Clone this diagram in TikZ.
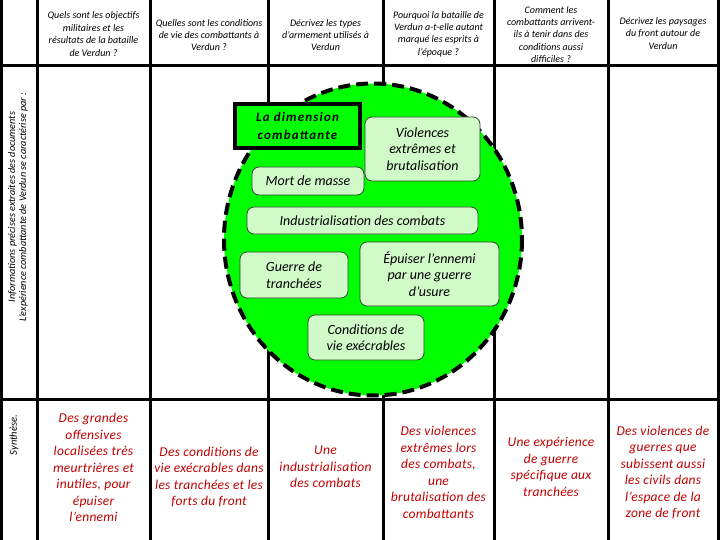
\documentclass[tikz,border=0pt]{standalone}
\usepackage{fontspec}
\setmainfont{Carlito}
\definecolor{lime}{RGB}{0,255,0}
\definecolor{paleg}{RGB}{208,250,200}
\definecolor{boxline}{RGB}{50,70,50}
\definecolor{synred}{RGB}{192,0,0}
\begin{document}
\begin{tikzpicture}[x=1pt,y=-1pt,
  gridline/.style={line width=3pt},
  head/.style={font=\fontsize{10}{12.4}\selectfont\itshape, align=center, inner sep=0pt},
  side/.style={font=\fontsize{10.2}{11}\selectfont\itshape, align=center, inner sep=0pt, rotate=90},
  synth/.style={font=\fontsize{13.5}{16.5}\selectfont\itshape\addfontfeature{LetterSpace=2}, text=synred, align=center, inner sep=0pt},
  idea/.style={draw=boxline, fill=paleg, rounded corners=7pt, line width=0.8pt,
    font=\fontsize{14}{16.4}\selectfont\itshape, align=center, inner sep=0pt},
  dimbox/.style={draw=black, fill=lime, line width=4pt,
    font=\fontsize{13}{18}\selectfont\bfseries\itshape\addfontfeature{LetterSpace=9}, align=center, inner sep=0pt}
]
\useasboundingbox (0,0) rectangle (720,540);
% table grid
\foreach \x in {1.5,37,150,268,383,494,608,718}{\draw[gridline] (\x,0) -- (\x,540);}
\draw[gridline] (0,66) -- (720,66);
\draw[gridline] (0,399) -- (720,399);
% header questions
\node[head] (q1) at (93.5,34) {Quels sont les objectifs\\militaires et les\\résultats de la bataille\\de Verdun ?};
\node[head] (q2) at (209,35) {Quelles sont les conditions\\de vie des combattants à\\Verdun ?};
\node[head] (q3) at (325.5,35) {Décrivez les types\\d’armement utilisés à\\Verdun};
\node[head] (q4) at (438.5,34) {Pourquoi la bataille de\\Verdun a-t-elle autant\\marqué les esprits à\\l’époque ?};
\node[head] (q5) at (551,34.5) {Comment les\\combattants arrivent-\\ils à tenir dans des\\conditions aussi\\difficiles ?};
\node[head] (q6) at (663,33.5) {Décrivez les paysages\\du front autour de\\Verdun};
% side labels
\node[side] (lab1) at (18,207) {Informations précises extraites des documents\\L’expérience combattante de Verdun se caractérise par :};
\node[side, font=\fontsize{10.5}{12}\selectfont\itshape] (lab2) at (14,435) {Synthèse.};
% central ellipse
\draw[line width=4pt, dash pattern=on 12pt off 6pt, fill=lime] (373,239.5) ellipse [x radius=149, y radius=156];
% idea boxes
\node[dimbox, minimum width=125pt, minimum height=44pt] (dim) at (297.5,126) {La dimension\\combattante};
\node[idea, minimum width=115pt, minimum height=64pt] (viol) at (422.5,149) {Violences\\extrêmes et\\brutalisation};
\node[idea, minimum width=112pt, minimum height=28pt] (mort) at (308,181) {Mort de masse};
\node[idea, minimum width=231pt, minimum height=27pt] (indus) at (362.5,220.5) {Industrialisation des combats};
\node[idea, minimum width=108pt, minimum height=46pt] (guerre) at (294,275) {Guerre de\\tranchées};
\node[idea, minimum width=139pt, minimum height=64pt] (epuis) at (429.5,274) {Épuiser l’ennemi\\par une guerre\\d’usure};
\node[idea, minimum width=116pt, minimum height=45pt] (cond) at (366,337.5) {Conditions de\\vie exécrables};
% synthesis
\node[synth] (s1) at (93.5,467.5) {Des grandes\\offensives\\localisées très\\meurtrières et\\inutiles, pour\\épuiser\\l’ennemi};
\node[synth] (s2) at (209,477) {Des conditions de\\vie exécrables dans\\les tranchées et les\\forts du front};
\node[synth] (s3) at (325.5,467) {Une\\industrialisation\\des combats};
\node[synth] (s4) at (438.5,472.5) {Des violences\\extrêmes lors\\des combats,\\une\\brutalisation des\\combattants};
\node[synth] (s5) at (551,467) {Une expérience\\de guerre\\spécifique aux\\tranchées};
\node[synth] (s6) at (663,472.5) {Des violences de\\guerres que\\subissent aussi\\les civils dans\\l’espace de la\\zone de front};
\end{tikzpicture}
\end{document}
